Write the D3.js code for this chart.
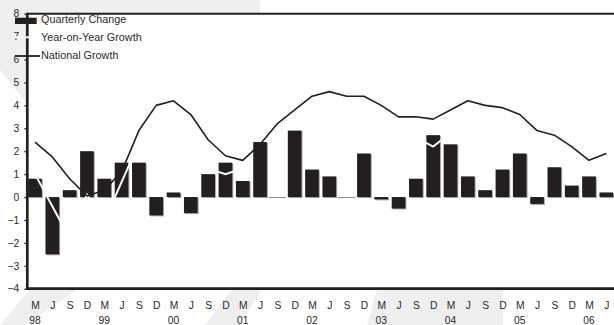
<!DOCTYPE html>
<html><head><meta charset="utf-8">
<script src="https://cdn.jsdelivr.net/npm/d3@7/dist/d3.min.js"></script>
<style>
body{margin:0;background:#fff;}
svg{display:block;font-family:"Liberation Sans",Arial,sans-serif;}
</style>
</head><body>
<svg id="chart" width="614" height="325"></svg>
<script>
// ---- data ----
const periods = ["Mar-98","Jun-98","Sep-98","Dec-98","Mar-99","Jun-99","Sep-99","Dec-99",
  "Mar-00","Jun-00","Sep-00","Dec-00","Mar-01","Jun-01","Sep-01","Dec-01",
  "Mar-02","Jun-02","Sep-02","Dec-02","Mar-03","Jun-03","Sep-03","Dec-03",
  "Mar-04","Jun-04","Sep-04","Dec-04","Mar-05","Jun-05","Sep-05","Dec-05",
  "Mar-06","Jun-06"];
const quarterLabels = ["M","J","S","D","M","J","S","D","M","J","S","D","M","J","S","D",
  "M","J","S","D","M","J","S","D","M","J","S","D","M","J","S","D","M","J"];
const yearLabels = ["98","99","00","01","02","03","04","05","06"];
const quarterlyChange = [0.8,-2.5,0.3,2.0, 0.8,1.5,1.5,-0.8, 0.2,-0.7,1.0,1.5, 0.7,2.4,0.0,2.9,
  1.2,0.9,0.0,1.9, -0.1,-0.5,0.8,2.7, 2.3,0.9,0.3,1.2, 1.9,-0.3,1.3,0.5, 0.9,0.2];
const yearOnYearGrowth = [1.0,-0.4,-1.8,0.1, -1.05,0.65,2.35,2.5, 2.2,1.8,1.25,1.0, 1.25,3.5,3.3,3.4,
  3.2,2.8,2.6,2.4, 2.2,2.4,2.6,2.2, 2.8,3.0,3.1,3.0, 2.5,1.5,1.6,1.2, 1.2,1.0];
const nationalGrowth = [2.4,1.75,0.8,0.05, 0.3,1.1,2.9,4.0, 4.2,3.6,2.5,1.8, 1.6,2.3,3.2,3.8,
  4.4,4.6,4.4,4.4, 4.0,3.5,3.5,3.4, 3.8,4.2,4.0,3.9, 3.6,2.9,2.7,2.2, 1.6,1.9];
const yTickValues = [-4,-3,-2,-1,0,1,2,3,4,5,6,7,8];
const legendLabels = ["Quarterly Change","Year-on-Year Growth","National Growth"];

// ---- layout ----
const W = 614, H = 325;
const pLeft = 27.3, pRight = 614, pTop = 13.7, pBottom = 288.7;
const ink = "#231f20", textCol = "#2a2a2a", wm = "#efefef";

const svg = d3.select("#chart");
const x = d3.scalePoint().domain(periods).range([35, 606.3]);
const y = d3.scaleLinear().domain([-4, 8]).range([pBottom, pTop]);
const barW = x.step() * 0.79;

// watermark shapes (outside plot area)
const wmShapes = [
  [[0,0],[260,0],[260,14],[27,14],[27,104],[0,70]],
  [[0,325],[25,325],[78,289],[30,289]],
  [[367,325],[503,325],[503,289],[377,289]],
  [[205,325],[240,325],[262,289],[232,289]]
];
svg.append("g").selectAll("path").data(wmShapes).join("path")
  .attr("d", d => d3.line()(d) + "Z").attr("fill", wm);

// plot background
svg.append("rect").attr("x", pLeft).attr("y", pTop).attr("width", pRight - pLeft).attr("height", pBottom - pTop).attr("fill", "#fff");

const barData = periods.map((p,i)=>({p, v: quarterlyChange[i]}));
const gBars = svg.append("g");
// zero-value markers
gBars.selectAll("line.z").data(barData.filter(d => d.v === 0)).join("line").attr("class","z")
  .attr("x1", d => x(d.p) - x.step()/2).attr("x2", d => x(d.p) + x.step()/2)
  .attr("y1", y(0) + 0.5).attr("y2", y(0) + 0.5).attr("stroke", "#8a8a8a").attr("stroke-width", 1);
// bar shadows
gBars.selectAll("rect.sh").data(barData.filter(d=>d.v!==0))
  .join("rect").attr("class","sh")
  .attr("x", d => x(d.p) - barW/2 + 1)
  .attr("y", d => Math.min(y(d.v), y(0)) + 1)
  .attr("width", barW)
  .attr("height", d => Math.abs(y(d.v) - y(0)))
  .attr("fill", "#a5a5a5");
gBars.selectAll("rect.b").data(barData.filter(d=>d.v!==0))
  .join("rect").attr("class","b")
  .attr("x", d => x(d.p) - barW/2)
  .attr("y", d => Math.min(y(d.v), y(0)))
  .attr("width", barW)
  .attr("height", d => Math.abs(y(d.v) - y(0)))
  .attr("fill", ink);

// year-on-year (white) line
const line = d3.line().x(d => x(d.p)).y(d => y(d.v));
svg.append("path")
  .datum(periods.map((p,i)=>({p, v: yearOnYearGrowth[i]})))
  .attr("d", line).attr("fill","none").attr("stroke","#fff").attr("stroke-width",2)
  .attr("stroke-linejoin","miter");
// national line
svg.append("path")
  .datum(periods.map((p,i)=>({p, v: nationalGrowth[i]})))
  .attr("d", line).attr("fill","none").attr("stroke",ink).attr("stroke-width",1.6)
  .attr("stroke-linejoin","round");

// y axis
const yAxis = svg.append("g").attr("transform", `translate(${pLeft},0)`)
  .call(d3.axisLeft(y).tickValues(yTickValues).tickSize(3).tickPadding(5).tickFormat(d3.format("d")));
yAxis.select(".domain").remove();
yAxis.selectAll(".tick line").attr("stroke", ink).attr("stroke-width", 1.2);
yAxis.selectAll("text").attr("fill", textCol).style("font-size", "10.3px")
  .style("font-family", '"Liberation Sans",Arial,sans-serif');

// x axis labels
const xAxis = svg.append("g").attr("transform", `translate(0,${pBottom})`)
  .call(d3.axisBottom(x).tickSize(0).tickPadding(13).tickFormat((d,i)=>quarterLabels[i]));
xAxis.select(".domain").remove();
xAxis.selectAll("text").attr("fill", textCol).style("font-size", "10.3px")
  .style("font-family", '"Liberation Sans",Arial,sans-serif');
svg.append("g").selectAll("text").data(yearLabels).join("text")
  .attr("x", (d,i) => x(periods[i*4])).attr("y", 324)
  .attr("text-anchor","middle").attr("fill", textCol).style("font-size","10.3px")
  .text(d => d);

// frame
svg.append("line").attr("x1", pLeft).attr("x2", pRight).attr("y1", pTop).attr("y2", pTop)
  .attr("stroke", ink).attr("stroke-width", 2);
svg.append("line").attr("x1", pLeft).attr("x2", pLeft).attr("y1", pTop - 1).attr("y2", pBottom + 1.3)
  .attr("stroke", ink).attr("stroke-width", 2.7);
svg.append("line").attr("x1", pLeft - 1.3).attr("x2", pRight).attr("y1", pBottom).attr("y2", pBottom)
  .attr("stroke", ink).attr("stroke-width", 2.7);

// legend
const lg = svg.append("g");
lg.append("rect").attr("x", 15).attr("y", 17.7).attr("width", 21.7).attr("height", 6.3).attr("fill", ink);
lg.append("line").attr("x1", 15).attr("x2", 37).attr("y1", 37.3).attr("y2", 37.3)
  .attr("stroke", "#fff").attr("stroke-width", 2);
lg.append("line").attr("x1", 15).attr("x2", 40).attr("y1", 56).attr("y2", 56)
  .attr("stroke", ink).attr("stroke-width", 1.8);
lg.selectAll("text").data(legendLabels).join("text")
  .attr("x", 41).attr("y", (d,i) => [23, 40.7, 58.5][i])
  .attr("fill", textCol).style("font-size", "10.8px").text(d => d);
</script>
</body></html>
